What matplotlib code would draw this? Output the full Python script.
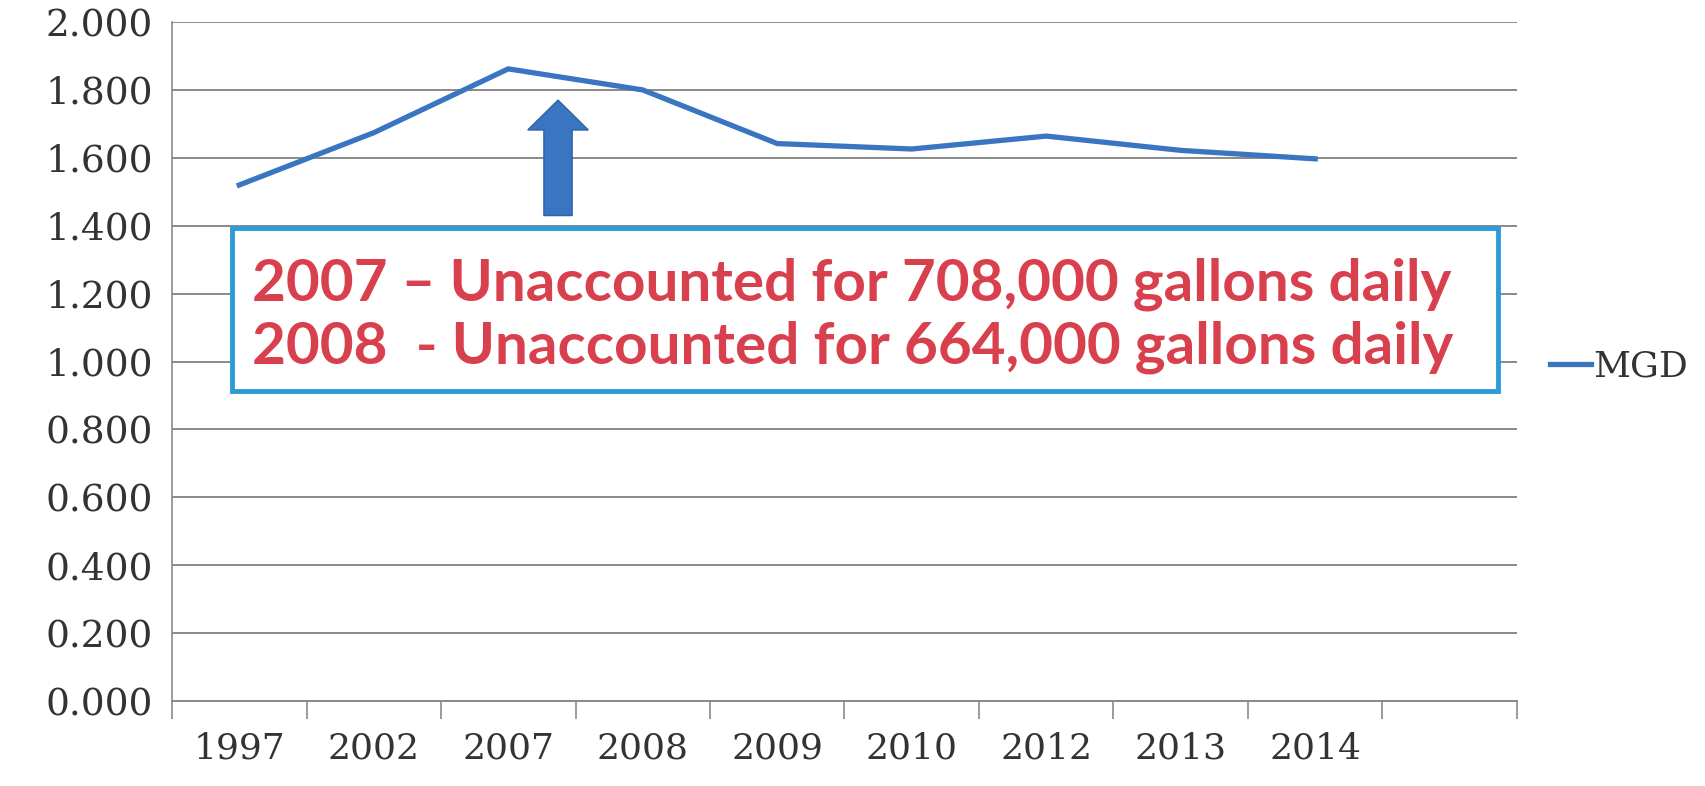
import matplotlib.pyplot as plt
from matplotlib.patches import Rectangle, FancyArrow
import numpy as np

# data
years = ['1997', '2002', '2007', '2008', '2009', '2010', '2012', '2013', '2014']
mgd = [1.520, 1.674, 1.862, 1.800, 1.642, 1.626, 1.664, 1.622, 1.597]
yticks = np.arange(0, 2.001, 0.2)
note_lines = ['2007 \u2013 Unaccounted for 708,000 gallons daily',
              '2008  - Unaccounted for 664,000 gallons daily']

line_color = '#3A75C2'
serif = ['DejaVu Serif']
note_font = ['Lato', 'DejaVu Sans']

fig = plt.figure(figsize=(17.05, 7.86), dpi=100)
ax = fig.add_axes([0.1009, 0.108, 0.7888, 0.864])

x = np.arange(len(years))
ax.plot(x, mgd, color=line_color, lw=3.8, solid_joinstyle='miter', label='MGD', zorder=3)

# 10 category slots, last one empty
ax.set_xlim(-0.5, 9.5)
ax.set_ylim(0, 2.0)
ax.set_yticks(yticks)
ax.set_yticklabels([f'{v:.3f}' for v in yticks], family=serif, fontsize=27, color='#333333')
ax.yaxis.grid(True, color='#8a8a8a', lw=1.4)
ax.set_axisbelow(True)
ax.tick_params(axis='y', length=0, pad=14)

ax.set_xticks(np.arange(-0.5, 10.0, 1.0))
ax.set_xticklabels([])
ax.set_xticks(x, minor=True)
ax.set_xticklabels(years, minor=True, family=serif, fontsize=26, color='#333333')
ax.tick_params(axis='x', which='major', length=13, width=1.2, color='#8a8a8a', direction='out')
ax.tick_params(axis='x', which='minor', length=0, pad=22)

for s in ['top', 'right']:
    ax.spines[s].set_visible(False)
ax.spines['left'].set_color('#8a8a8a')
ax.spines['bottom'].set_color('#8a8a8a')
ax.spines['left'].set_linewidth(1.2)
ax.spines['bottom'].set_linewidth(1.4)

# up arrow
arr = FancyArrow(2.37, 1.43, 0, 0.34, width=0.21, head_width=0.45, head_length=0.088,
                 length_includes_head=True, facecolor=line_color, edgecolor='#2F62A8',
                 lw=1.0, zorder=4)
ax.add_patch(arr)

# note box
box = Rectangle((0.136, 0.5025), 0.7425, 0.2074, transform=fig.transFigure,
                facecolor='white', edgecolor='#2E9AD8', lw=3.5, zorder=5)
fig.add_artist(box)
for txt, yy in zip(note_lines, [0.638, 0.558]):
    fig.text(0.148, yy, txt, color='#D8404E', fontsize=42, fontweight='bold',
             family=note_font, va='center', ha='left', zorder=6)

leg = ax.legend(loc='center left', bbox_to_anchor=(0.909, 0.534), bbox_transform=fig.transFigure,
                frameon=False, handlelength=1.15, handletextpad=0.05, borderpad=0,
                borderaxespad=0, prop={'family': serif, 'size': 26})
for t in leg.get_texts():
    t.set_color('#333333')

fig.savefig('out.png', dpi=100)
